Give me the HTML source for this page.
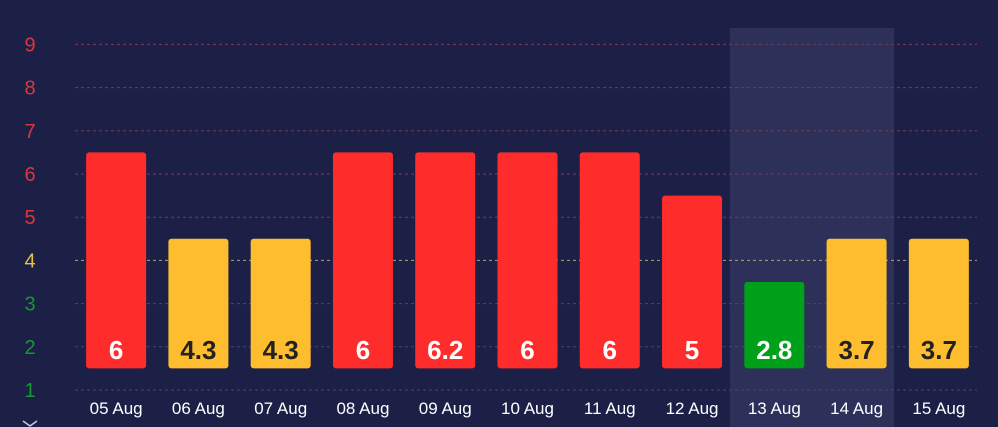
<!DOCTYPE html>
<html><head><meta charset="utf-8"><style>
body{margin:0;background:#1d2046;width:998px;height:427px;overflow:hidden}
svg{display:block;font-family:"Liberation Sans",Arial,sans-serif}
</style></head><body>
<svg id="c" width="998" height="427"></svg>
<script>
const categories=["05 Aug","06 Aug","07 Aug","08 Aug","09 Aug","10 Aug","11 Aug","12 Aug","13 Aug","14 Aug","15 Aug"];
const printedValues=["6","4.3","4.3","6","6.2","6","6","5","2.8","3.7","3.7"];
const barLevels=[6.5,4.5,4.5,6.5,6.5,6.5,6.5,5.5,3.5,4.5,4.5];
const yTicks=[1,2,3,4,5,6,7,8,9];
const ns="http://www.w3.org/2000/svg";
const svg=document.getElementById('c');
const x0=75,x1=980,slot=(x1-x0)/categories.length,base=1.5;
const y=v=>390-(v-1)*43.2;
const xc=i=>x0+slot*(i+0.5);
function mk(t,a){const e=document.createElementNS(ns,t);for(const k in a)e.setAttribute(k,a[k]);svg.appendChild(e);return e;}
function col(v){return v>=5?"#ff2c2c":v>=4?"#fdbd2e":"#00a01a";}
// highlight
const hl=mk('rect',{x:730,y:28,width:164,height:399,fill:"#2d3058"});


yTicks.forEach(t=>{
 const c=t>=5?"#d9363e":t==4?"#e7c04a":"#119a2e";
 const gc=t>=5?"#8a3350":t==4?"#b0a070":"#45486e";
 const l=mk('line',{x1:x0,x2:977,y1:y(t),y2:y(t),stroke:gc,"stroke-dasharray":"3,3","stroke-width":1});
 
 
 const tx=mk('text',{x:30,y:y(t)+7,"text-anchor":"middle","font-size":20,fill:c});
 tx.textContent=t;
 
 
});
categories.forEach((c,i)=>{
 const lv=barLevels[i],v=parseFloat(printedValues[i]);
 const r=mk('rect',{x:xc(i)-30,y:y(lv),width:60,height:y(base)-y(lv),rx:3,fill:col(lv)});
 
 
 const vt=mk('text',{x:xc(i),y:359,"text-anchor":"middle","font-size":26,"font-weight":"bold",fill:lv>=4&&lv<5?"#222":"#fff"});
 vt.textContent=printedValues[i];
 
 
 const ct=mk('text',{x:xc(i),y:414,"text-anchor":"middle","font-size":17,fill:"#fff"});
 ct.textContent=c;
 
 
});
const ch=mk('polyline',{points:"23,421 30,426 37,421",fill:"none",stroke:"#ccd","stroke-width":1.5});


</script>
</body></html>
